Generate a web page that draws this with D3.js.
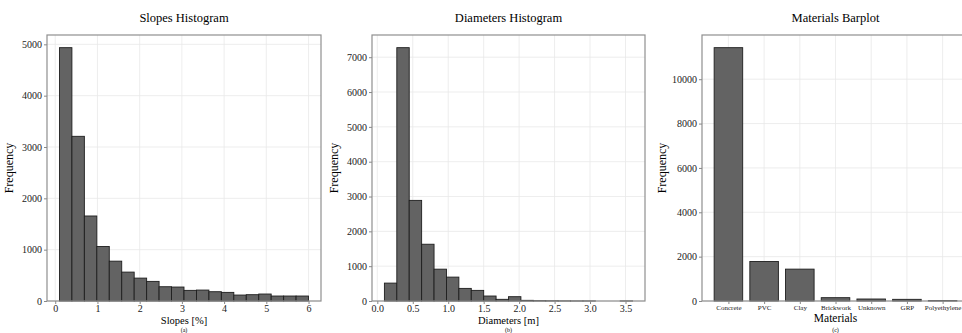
<!DOCTYPE html>
<html>
<head>
<meta charset="utf-8">
<script src="https://cdn.jsdelivr.net/npm/d3@7"></script>
<style>
  body { margin: 0; background: #fff; }
  svg { display: block; font-family: "Liberation Serif", "DejaVu Serif", serif; }
  .grid line { stroke: #e8e8e8; stroke-width: 0.8; }
  .axis path { display: none; }
  .axis line { stroke: #888; }
  .axis text { fill: #222; font-size: 10px; font-family: "Liberation Serif", "DejaVu Serif", serif; }
</style>
</head>
<body>
<svg id="chart" width="962" height="333"></svg>
<script>
// slopes histogram: 20 bins from 0.1 to 6.0 %
const slopeRange = [0.1, 6.0];
const slopeCounts = [4935, 3208, 1656, 1061, 776, 563, 446, 382, 278, 272,
  207, 213, 181, 168, 116, 123, 136, 97, 97, 97];
const slopeTicks = [0, 1, 2, 3, 4, 5, 6];

// diameters histogram: 20 bins from 0.1 to 3.6 m
const diamRange = [0.1, 3.6];
const diamCounts = [514, 7274, 2889, 1630, 914, 686, 362, 305, 143, 48,
  124, 19, 8, 5, 2, 1, 1, 0, 0, 1];
const diamTicks = [0.0, 0.5, 1.0, 1.5, 2.0, 2.5, 3.0, 3.5];

// materials barplot
const materials = ["Concrete", "PVC", "Clay", "Brickwork", "Unknown", "GRP", "Polyethylene"];
const materialCounts = [11422, 1781, 1437, 150, 90, 75, 15];

const svg = d3.select("#chart");
const plotTop = 35, plotBottom = 301;
const barFill = "#636363", barStroke = "#1e1e1e";

function frame(g, w) {
  g.append("rect")
    .attr("width", w).attr("height", plotBottom - plotTop)
    .attr("fill", "none").attr("stroke", "#8f8f8f").attr("stroke-width", 1.2);
}

function labels(g, w, title, xlab, tag, xlabY, tagY, ylabX, xlabSize) {
  g.append("text").attr("x", w / 2).attr("y", -13)
    .attr("text-anchor", "middle").style("font-size", "12.5px").text(title);
  g.append("text").attr("x", w / 2).attr("y", xlabY)
    .attr("text-anchor", "middle").style("font-size", xlabSize).text(xlab);
  g.append("text").attr("x", w / 2).attr("y", tagY)
    .attr("text-anchor", "middle").style("font-size", "6px").text(tag);
  g.append("text")
    .attr("transform", `translate(${ylabX},${(plotBottom - plotTop) / 2}) rotate(-90)`)
    .attr("text-anchor", "middle").style("font-size", "12px").text("Frequency");
}

function histogram(left, width, range, counts, ticks, fmt, yTicks, title, xlab, tag) {
  const n = counts.length;
  const step = (range[1] - range[0]) / n;
  const bins = counts.map((c, i) => ({ x0: range[0] + i * step, x1: range[0] + (i + 1) * step, c }));
  const pad = (range[1] - range[0]) * 0.05;
  const h = plotBottom - plotTop;
  const x = d3.scaleLinear().domain([range[0] - pad, range[1] + pad]).range([0, width]);
  const y = d3.scaleLinear().domain([0, d3.max(counts) * 1.05]).range([h, 0]);

  const g = svg.append("g").attr("transform", `translate(${left},${plotTop})`);

  g.append("g").attr("class", "grid")
    .selectAll("line").data(ticks).join("line")
    .attr("x1", d => x(d)).attr("x2", d => x(d)).attr("y1", 0).attr("y2", h);
  g.append("g").attr("class", "grid")
    .selectAll("line").data(yTicks).join("line")
    .attr("x1", 0).attr("x2", width).attr("y1", d => y(d)).attr("y2", d => y(d));

  g.selectAll("rect.bar").data(bins).join("rect")
    .attr("class", "bar")
    .attr("x", d => x(d.x0)).attr("width", d => x(d.x1) - x(d.x0))
    .attr("y", d => y(d.c)).attr("height", d => h - y(d.c))
    .attr("fill", barFill).attr("stroke", barStroke).attr("stroke-width", 0.9);

  frame(g, width);

  g.append("g").attr("class", "axis").attr("transform", `translate(0,${h})`)
    .call(d3.axisBottom(x).tickValues(ticks).tickFormat(fmt).tickSize(3).tickPadding(1));
  g.append("g").attr("class", "axis")
    .call(d3.axisLeft(y).tickValues(yTicks).tickFormat(d3.format("d")).tickSize(3).tickPadding(2));

  labels(g, width, title, xlab, tag, h + 23, h + 30.7, -34, "10.5px");
}

histogram(47, 274, slopeRange, slopeCounts, slopeTicks, d3.format("d"),
  [0, 1000, 2000, 3000, 4000, 5000], "Slopes Histogram", "Slopes [%]", "(a)");

histogram(372, 273, diamRange, diamCounts, diamTicks, d3.format(".1f"),
  [0, 1000, 2000, 3000, 4000, 5000, 6000, 7000], "Diameters Histogram", "Diameters [m]", "(b)");

// materials barplot
(function () {
  const left = 702, h = plotBottom - plotTop;
  const unit = 35.7;
  const width = unit * (materials.length - 1 + 1.48);
  const x = d3.scaleLinear().domain([-0.74, materials.length - 1 + 0.74]).range([0, width]);
  const y = d3.scaleLinear().domain([0, d3.max(materialCounts) * 1.05]).range([h, 0]);
  const yTicks = [0, 2000, 4000, 6000, 8000, 10000];
  const g = svg.append("g").attr("transform", `translate(${left},${plotTop})`);

  g.append("g").attr("class", "grid")
    .selectAll("line").data(materials.map((m, i) => i)).join("line")
    .attr("x1", d => x(d)).attr("x2", d => x(d)).attr("y1", 0).attr("y2", h);
  g.append("g").attr("class", "grid")
    .selectAll("line").data(yTicks).join("line")
    .attr("x1", 0).attr("x2", width).attr("y1", d => y(d)).attr("y2", d => y(d));

  g.selectAll("rect.bar").data(materialCounts).join("rect")
    .attr("class", "bar")
    .attr("x", (d, i) => x(i - 0.4)).attr("width", x(0.4) - x(-0.4))
    .attr("y", d => y(d)).attr("height", d => h - y(d))
    .attr("fill", barFill).attr("stroke", barStroke).attr("stroke-width", 0.9);

  frame(g, width);

  const xa = g.append("g").attr("class", "axis").attr("transform", `translate(0,${h})`)
    .call(d3.axisBottom(x).tickValues(materials.map((m, i) => i))
      .tickFormat(i => materials[i]).tickSize(3).tickPadding(1));
  xa.selectAll("text").style("font-size", "7px");
  g.append("g").attr("class", "axis")
    .call(d3.axisLeft(y).tickValues(yTicks).tickFormat(d3.format("d")).tickSize(3).tickPadding(2));

  labels(g, width, "Materials Barplot", "Materials", "(c)", h + 21, h + 30.7, -36, "11.5px");
})();
</script>
</body>
</html>
